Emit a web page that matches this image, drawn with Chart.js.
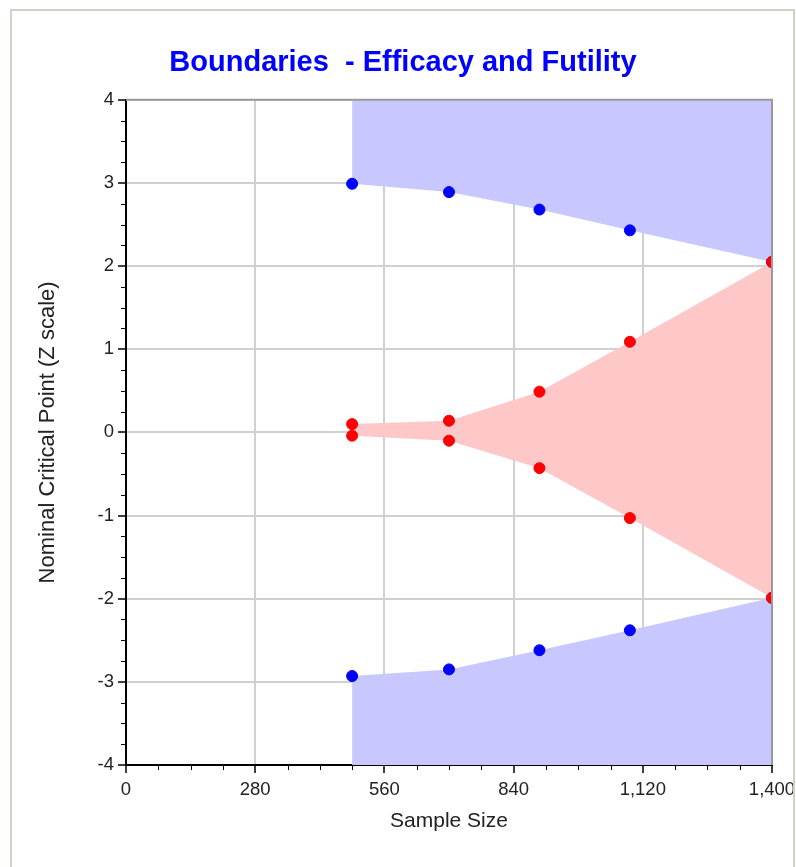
<!DOCTYPE html>
<html>
<head>
<meta charset="utf-8">
<script src="https://cdn.jsdelivr.net/npm/chart.js@4/dist/chart.umd.min.js"></script>
<style>
  html, body { margin: 0; padding: 0; background: #fff; }
  #wrap { position: relative; width: 796px; height: 867px; }
  #frame { position: absolute; left: 10px; top: 9px; width: 781px; height: 870px;
           border-left: 2px solid #d4d0c8; border-top: 2px solid #d4d0c8; border-right: 2px solid #d4d0c8;
           pointer-events: none; }
  canvas { position: absolute; left: 0; top: 0; }
</style>
</head>
<body>
<div id="wrap">
  <canvas id="c" width="796" height="867"></canvas>
  <div id="frame"></div>
</div>
<script>
// ---- data ----
const sampleSizes = [490, 700, 896, 1092, 1400];
const efficacyUpper = [2.99, 2.89, 2.68, 2.43, 2.05];
const efficacyLower = [-2.93, -2.85, -2.62, -2.38, -1.99];
const futilityUpper = [0.10, 0.14, 0.49, 1.09, 2.05];
const futilityLower = [-0.04, -0.10, -0.43, -1.03, -1.99];
const xTicks = [0, 280, 560, 840, 1120, 1400];
const yTicks = [-4, -3, -2, -1, 0, 1, 2, 3, 4];

const titleText = 'Boundaries  - Efficacy and Futility';
const xTitle = 'Sample Size';
const yTitle = 'Nominal Critical Point (Z scale)';

function pts(ys) { return sampleSizes.map((x, i) => ({ x: x, y: ys[i] })); }

const BLUE_FILL = 'rgb(200,200,255)';
const RED_FILL = 'rgb(255,200,200)';
const FONT = 'Arial, "Liberation Sans", sans-serif';

const minorTicks = {
  id: 'minorTicks',
  afterDraw(chart) {
    const ctx = chart.ctx;
    const xs = chart.scales.x, ys = chart.scales.y;
    const a = chart.chartArea;
    ctx.save();
    // plot border (top / right)
    ctx.strokeStyle = '#9a9a9a';
    ctx.lineWidth = 2;
    ctx.beginPath();
    ctx.moveTo(a.left, a.top);
    ctx.lineTo(a.right, a.top);
    ctx.lineTo(a.right, a.bottom);
    ctx.stroke();
    // minor ticks
    ctx.strokeStyle = '#000';
    ctx.lineWidth = 1;
    ctx.beginPath();
    for (let v = xs.min; v <= xs.max + 1e-6; v += 70) {
      if (Math.abs(v % 280) < 1e-6) continue;
      const px = Math.round(xs.getPixelForValue(v)) + 0.5;
      ctx.moveTo(px, a.bottom);
      ctx.lineTo(px, a.bottom + 5);
    }
    for (let v = ys.min; v <= ys.max + 1e-6; v += 0.25) {
      if (Math.abs(v - Math.round(v)) < 1e-6) continue;
      const py = Math.round(ys.getPixelForValue(v)) + 0.5;
      ctx.moveTo(a.left, py);
      ctx.lineTo(a.left - 5, py);
    }
    ctx.stroke();
    ctx.restore();
  }
};

function ds(label, ys, fill, fillColor, pointColor) {
  return { label: label, data: pts(ys), fill: fill, backgroundColor: fillColor,
    borderColor: 'rgba(0,0,0,0)', borderWidth: 0,
    pointBackgroundColor: pointColor, pointBorderColor: pointColor,
    pointRadius: 5.5, pointBorderWidth: 1, tension: 0 };
}

new Chart(document.getElementById('c'), {
  type: 'line',
  data: {
    datasets: [
      ds('Futility upper', futilityUpper, '+1', RED_FILL, '#ff0000'),
      ds('Futility lower', futilityLower, false, RED_FILL, '#ff0000'),
      ds('Efficacy upper', efficacyUpper, 'end', BLUE_FILL, '#0000ff'),
      ds('Efficacy lower', efficacyLower, 'start', BLUE_FILL, '#0000ff')
    ]
  },
  options: {
    responsive: false,
    animation: false,
    events: [],
    layout: { padding: { left: 34, right: 24, top: 0, bottom: 32 } },
    plugins: {
      filler: { drawTime: 'beforeDatasetsDraw' },
      legend: { display: false },
      tooltip: { enabled: false },
      title: {
        display: true, text: titleText, color: '#0000ff',
        font: { family: FONT, size: 29, weight: 'bold' },
        padding: { top: 46, bottom: 19 }
      }
    },
    scales: {
      x: {
        type: 'linear', min: 0, max: 1400,
        afterBuildTicks(s) { s.ticks = xTicks.map(v => ({ value: v })); },
        afterFit(s) { s.height = 70; s.paddingRight = 0; s.paddingLeft = 0; },
        ticks: {
          color: '#222', padding: 6,
          font: { family: FONT, size: 18.5 },
          maxRotation: 0, autoSkip: false,
          callback: v => Number(v).toLocaleString('en-US')
        },
        grid: { color: '#d0d0d0', lineWidth: 2, tickColor: '#000', tickLength: 8, tickWidth: 1.5 },
        border: { color: '#000', width: 2 },
        title: { display: true, text: xTitle, color: '#222', padding: { top: 0, bottom: 1 },
          font: { family: FONT, size: 21 } }
      },
      y: {
        type: 'linear', min: -4, max: 4,
        afterBuildTicks(s) { s.ticks = yTicks.map(v => ({ value: v })); },
        afterFit(s) { s.width = 92; },
        ticks: {
          color: '#222', padding: 4,
          font: { family: FONT, size: 18.5 }
        },
        grid: { color: '#d0d0d0', lineWidth: 2, tickColor: '#000', tickLength: 8, tickWidth: 1.5 },
        border: { color: '#000', width: 2 },
        title: { display: true, text: yTitle, color: '#222', padding: { top: 1, bottom: 0 },
          font: { family: FONT, size: 22 } }
      }
    }
  },
  plugins: [minorTicks]
});
</script>
</body>
</html>
